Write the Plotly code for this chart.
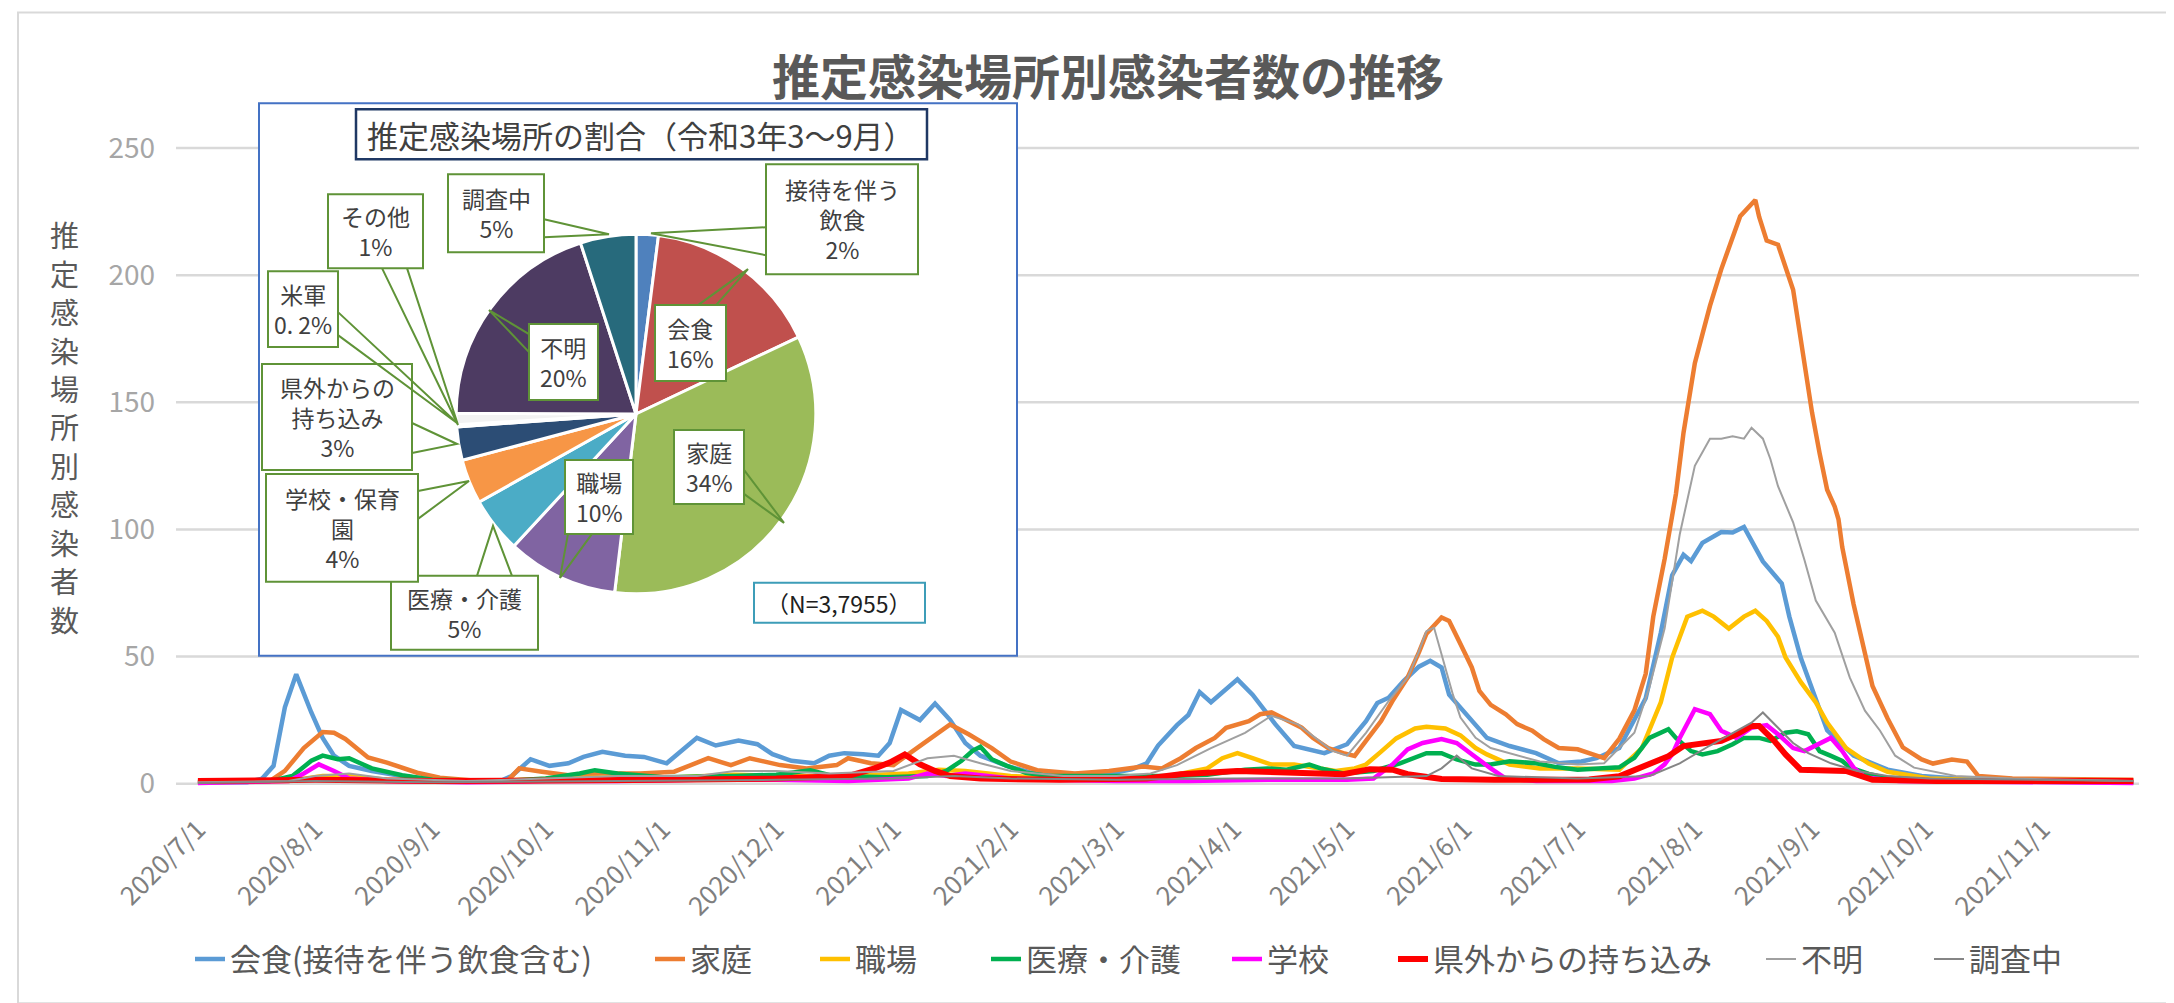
import plotly.graph_objects as go

# ---------------- data ----------------
month_ticks = ["2020-07-01", "2020-08-01", "2020-09-01", "2020-10-01", "2020-11-01", "2020-12-01",
               "2021-01-01", "2021-02-01", "2021-03-01", "2021-04-01", "2021-05-01", "2021-06-01",
               "2021-07-01", "2021-08-01", "2021-09-01", "2021-10-01", "2021-11-01"]
y_ticks = [0, 50, 100, 150, 200, 250]

kaishoku_x = ["2020-07-01","2020-07-14","2020-07-18","2020-07-21","2020-07-24","2020-07-27","2020-07-31","2020-08-03","2020-08-06","2020-08-10","2020-08-16","2020-08-24","2020-09-01","2020-09-19","2020-09-22","2020-09-27","2020-10-02","2020-10-07","2020-10-11","2020-10-16","2020-10-22","2020-10-27","2020-11-02","2020-11-06","2020-11-10","2020-11-15","2020-11-21","2020-11-26","2020-11-30","2020-12-05","2020-12-11","2020-12-15","2020-12-19","2020-12-24","2020-12-28","2020-12-31","2021-01-03","2021-01-08","2021-01-12","2021-01-16","2021-01-20","2021-01-24","2021-01-31","2021-02-06","2021-02-14","2021-02-23","2021-03-01","2021-03-05","2021-03-09","2021-03-12","2021-03-17","2021-03-20","2021-03-23","2021-03-26","2021-04-02","2021-04-06","2021-04-09","2021-04-12","2021-04-17","2021-04-21","2021-04-25","2021-05-01","2021-05-06","2021-05-09","2021-05-12","2021-05-16","2021-05-20","2021-05-23","2021-05-26","2021-05-28","2021-05-31","2021-06-03","2021-06-07","2021-06-13","2021-06-20","2021-06-26","2021-07-02","2021-07-06","2021-07-12","2021-07-19","2021-07-23","2021-07-26","2021-07-29","2021-07-31","2021-08-03","2021-08-08","2021-08-11","2021-08-14","2021-08-17","2021-08-19","2021-08-24","2021-08-26","2021-08-29","2021-09-01","2021-09-05","2021-09-12","2021-09-21","2021-09-30","2021-10-09","2021-10-24","2021-11-25"]
kaishoku_y = [0.5,0.5,2,7,30,43,28,18,11,7,5,3,1.5,1,3,9.6,7,8,10.5,12.5,11,10.5,8,13,18,15,17,15.5,11.6,9,8,11,12,11.6,11,16,29,25,31.5,25,16,11,7,4.5,3.6,4,4.5,5.6,8,15,23,27,36,32,41,35,29,23.4,14.8,13.5,12,15.5,24.6,31.7,33.8,40.4,46,48.3,45.7,35,30,24.6,18,14.8,12,8,8.7,10,14,33.6,59.4,82,90,87.5,94.7,99,98.8,101,93,87.4,78.7,65.7,49.6,36.8,21,11,5.5,3,2,1,1]

katei_x = ["2020-07-01","2020-07-20","2020-07-24","2020-07-29","2020-08-03","2020-08-06","2020-08-09","2020-08-15","2020-08-20","2020-08-28","2020-09-03","2020-09-11","2020-09-21","2020-09-24","2020-09-30","2020-10-07","2020-10-16","2020-10-26","2020-11-04","2020-11-13","2020-11-19","2020-11-24","2020-12-02","2020-12-09","2020-12-17","2020-12-20","2020-12-26","2021-01-01","2021-01-06","2021-01-12","2021-01-16","2021-01-21","2021-01-27","2021-02-01","2021-02-08","2021-02-18","2021-02-27","2021-03-08","2021-03-13","2021-03-18","2021-03-22","2021-03-27","2021-03-30","2021-04-05","2021-04-08","2021-04-11","2021-04-15","2021-04-19","2021-04-22","2021-04-26","2021-04-30","2021-05-03","2021-05-06","2021-05-10","2021-05-13","2021-05-17","2021-05-20","2021-05-22","2021-05-26","2021-05-28","2021-05-31","2021-06-03","2021-06-05","2021-06-08","2021-06-12","2021-06-15","2021-06-19","2021-06-22","2021-06-26","2021-07-01","2021-07-05","2021-07-08","2021-07-12","2021-07-16","2021-07-19","2021-07-21","2021-07-24","2021-07-27","2021-07-29","2021-08-01","2021-08-03","2021-08-05","2021-08-08","2021-08-11","2021-08-13","2021-08-17","2021-08-18","2021-08-20","2021-08-23","2021-08-27","2021-08-30","2021-09-01","2021-09-03","2021-09-05","2021-09-07","2021-09-08","2021-09-09","2021-09-12","2021-09-15","2021-09-17","2021-09-21","2021-09-25","2021-09-30","2021-10-03","2021-10-08","2021-10-12","2021-10-15","2021-10-24","2021-11-25"]
katei_y = [1,1,5,14,20.3,20,17.6,10.3,8.3,4.3,2.3,1.3,1.3,6,4.7,3.3,4,4,4.7,10,7.3,10,7.3,6,7.3,10,8,7.3,12.7,19.3,23.3,19.3,14,8.7,5.3,4,5,6.7,6,10,14,18,22,24.6,27.3,28,25,22,18,14,12,10.9,16.8,24.6,32.5,41.7,51.6,59,65.4,64,54.9,45.7,36.5,31,27.3,23.4,20.8,17.5,14,13.5,11.5,10,17.6,28.8,43.2,65.7,88.3,114,138,165.4,176.7,187.9,202.4,215.2,223.2,229.6,223,213.6,212,194.3,165,146,130,115.6,109,104,93,70.6,51.3,38.4,25.6,14.3,9.5,7.9,9.5,8.7,3,2,1.5]

shokuba_x = ["2020-07-01","2020-07-25","2020-08-03","2020-08-10","2020-08-20","2020-09-15","2020-10-05","2020-10-20","2020-11-05","2020-11-20","2020-12-05","2020-12-20","2021-01-05","2021-01-13","2021-01-20","2021-02-01","2021-02-15","2021-03-01","2021-03-15","2021-03-25","2021-03-29","2021-04-02","2021-04-06","2021-04-11","2021-04-17","2021-04-23","2021-04-28","2021-05-03","2021-05-06","2021-05-10","2021-05-14","2021-05-19","2021-05-22","2021-05-27","2021-05-31","2021-06-04","2021-06-07","2021-06-13","2021-06-21","2021-07-01","2021-07-12","2021-07-18","2021-07-23","2021-07-26","2021-07-30","2021-08-03","2021-08-06","2021-08-10","2021-08-14","2021-08-17","2021-08-20","2021-08-23","2021-08-25","2021-08-29","2021-09-02","2021-09-05","2021-09-10","2021-09-16","2021-09-21","2021-10-02","2021-10-24","2021-11-25"]
shokuba_y = [0.5,1,3,3,1.5,1,2,2.5,2.5,3.5,3,3,4,5.5,5,3,2,2,3,6,10,12,10,7.5,7.5,6,5,6,7.5,12.6,17.8,21.7,22.4,21.7,19,14,11.5,7.5,6,6,5.5,14,32,49.6,65.7,68,65.7,61,65.7,68,64,57.8,49.6,40,32,24,14,7.9,4.7,2,1,0.5]

iryo_x = ["2020-07-01","2020-07-20","2020-07-26","2020-07-31","2020-08-03","2020-08-07","2020-08-10","2020-08-16","2020-08-24","2020-09-01","2020-09-20","2020-10-01","2020-10-10","2020-10-14","2020-10-20","2020-11-01","2020-11-20","2020-12-01","2020-12-10","2020-12-16","2020-12-30","2021-01-10","2021-01-15","2021-01-19","2021-01-22","2021-01-24","2021-01-27","2021-01-31","2021-02-05","2021-02-11","2021-02-28","2021-03-15","2021-03-25","2021-04-04","2021-04-10","2021-04-15","2021-04-21","2021-04-24","2021-04-30","2021-05-08","2021-05-15","2021-05-22","2021-05-26","2021-05-30","2021-06-04","2021-06-08","2021-06-13","2021-06-20","2021-06-25","2021-07-01","2021-07-12","2021-07-16","2021-07-20","2021-07-25","2021-07-27","2021-07-31","2021-08-03","2021-08-07","2021-08-11","2021-08-14","2021-08-18","2021-08-21","2021-08-25","2021-08-28","2021-08-31","2021-09-03","2021-09-06","2021-09-09","2021-09-11","2021-09-16","2021-09-20","2021-10-04","2021-11-25"]
iryo_y = [0.5,1,3,9,11,9.6,10,6,3.3,1.5,1,2,4,5.3,4,2.5,3,3.5,5.3,3,2.5,3,5,9,13,14.5,9.6,7,4.3,3,3,3,3.5,5.5,6,5.5,7.5,6,4,5,8,12,12,9.5,7.5,7.5,8.8,8,6.6,5.5,6.4,10.2,18,21.4,18,12.8,11.5,12.8,15.5,18,18,16.8,20,20.6,19.4,12.8,10.9,8.9,6.4,3.8,2.4,1,0.5]

gakko_x = ["2020-07-01","2020-07-25","2020-07-29","2020-08-02","2020-08-06","2020-08-10","2020-08-20","2020-09-10","2020-10-01","2020-10-20","2020-11-10","2020-12-01","2020-12-20","2021-01-05","2021-01-10","2021-01-15","2021-01-20","2021-01-25","2021-02-01","2021-02-10","2021-03-01","2021-03-20","2021-04-10","2021-05-01","2021-05-08","2021-05-13","2021-05-17","2021-05-21","2021-05-26","2021-05-30","2021-06-03","2021-06-08","2021-06-12","2021-06-20","2021-07-10","2021-07-16","2021-07-21","2021-07-24","2021-07-26","2021-07-28","2021-08-01","2021-08-05","2021-08-08","2021-08-12","2021-08-16","2021-08-20","2021-08-23","2021-08-27","2021-08-30","2021-09-03","2021-09-06","2021-09-09","2021-09-12","2021-09-15","2021-09-24","2021-11-25"]
gakko_y = [0.3,1,4,7.6,5,2,1,0.5,1,1,1.5,1.5,1,2,4,3,4,3,2,1.5,1,1,1.5,1.5,2,7.5,13.5,16,17.5,16,11.5,6,2,1,1,2,4,7.6,11.5,18,29.3,27.3,20.8,18,22,23,19.4,14,12.8,16,18,12.8,6.3,2.4,1,0.3]

kengai_x = ["2020-07-01","2020-08-01","2020-09-01","2020-10-01","2020-11-01","2020-12-01","2020-12-20","2020-12-27","2020-12-31","2021-01-04","2021-01-08","2021-01-12","2021-01-16","2021-01-24","2021-02-14","2021-03-09","2021-03-18","2021-04-02","2021-04-21","2021-04-30","2021-05-07","2021-05-13","2021-05-17","2021-05-26","2021-06-09","2021-07-04","2021-07-12","2021-07-16","2021-07-20","2021-07-25","2021-07-29","2021-08-03","2021-08-08","2021-08-12","2021-08-16","2021-08-18","2021-08-22","2021-08-25","2021-08-29","2021-09-10","2021-09-17","2021-10-04","2021-11-25"]
kengai_y = [1,1.5,1,1,1.5,2,3,6,8.3,11.5,7.6,5,3,2,1.5,2,3.7,5,4.3,3.7,5.7,5.5,3.7,1.8,1.5,1.6,2.9,5.5,7.5,10.8,14.8,16,16.8,19.4,22.7,22.7,16.8,11.5,5.5,5,1.5,1,1]

fumei_x = ["2020-07-01","2020-07-25","2020-08-01","2020-08-10","2020-08-20","2020-09-10","2020-10-01","2020-10-20","2020-11-10","2020-11-20","2020-12-01","2020-12-15","2021-01-01","2021-01-10","2021-01-17","2021-01-24","2021-02-01","2021-02-15","2021-03-01","2021-03-10","2021-03-17","2021-03-26","2021-04-04","2021-04-11","2021-04-18","2021-04-27","2021-05-01","2021-05-06","2021-05-12","2021-05-17","2021-05-20","2021-05-22","2021-05-24","2021-05-26","2021-05-29","2021-05-31","2021-06-04","2021-06-08","2021-06-13","2021-06-21","2021-07-01","2021-07-08","2021-07-16","2021-07-20","2021-07-24","2021-07-28","2021-08-01","2021-08-05","2021-08-08","2021-08-11","2021-08-14","2021-08-16","2021-08-19","2021-08-21","2021-08-23","2021-08-27","2021-08-30","2021-09-02","2021-09-07","2021-09-11","2021-09-15","2021-09-19","2021-09-23","2021-09-28","2021-10-09","2021-10-24","2021-11-25"]
fumei_y = [0.5,1,3,4,2,1,2,3,3,5,5,4,5,10,11,8,5,3,3,4,7.3,14,20,26.7,23.3,13,11,20,32.5,41.7,52,60,61.4,51,35,26,18,14,12,8.7,7.5,8,20,38,61,98,125,135.7,135.7,136.6,135.7,140,135.7,127.6,117,102.8,88,72,59.4,41.7,28.7,20.8,11,6.3,3,2,1]

chosa_x = ["2020-07-01","2020-08-01","2020-09-01","2020-11-01","2020-12-01","2021-01-01","2021-01-17","2021-02-01","2021-03-01","2021-04-01","2021-05-01","2021-05-22","2021-05-26","2021-05-30","2021-06-03","2021-06-10","2021-07-01","2021-07-20","2021-07-28","2021-08-05","2021-08-11","2021-08-16","2021-08-19","2021-08-23","2021-08-27","2021-08-31","2021-09-06","2021-09-13","2021-09-21","2021-10-02","2021-11-25"]
chosa_y = [0.3,1,0.5,1,1.5,2,3,2,1.5,2,2,3,6,11,6,3,2,3,8,15,20,24,28,22,16,12,8,5,3,2,1]

series_names = ["会食(接待を伴う飲食含む)", "家庭", "職場", "医療・介護", "学校", "県外からの持ち込み", "不明", "調査中"]

pie_labels = ["接待を伴う飲食", "会食", "家庭", "職場", "医療・介護", "学校・保育園",
              "県外からの持ち込み", "米軍", "その他", "不明", "調査中"]
pie_values = [2, 16, 34, 10, 5, 4, 3, 0.2, 1, 20, 5]
callout_texts = ["接待を伴う<br>飲食<br>2%", "会食<br>16%", "家庭<br>34%", "職場<br>10%",
                 "医療・介護<br>5%", "学校・保育<br>園<br>4%", "県外からの<br>持ち込み<br>3%",
                 "米軍<br>0. 2%", "その他<br>1%", "不明<br>20%", "調査中<br>5%"]

chart_title = "推定感染場所別感染者数の推移"
y_title = "推定感染場所別感染者数"
pie_title = "推定感染場所の割合（令和3年3～9月）"
pie_note = "（N=3,7955）"

# ---------------- layout helpers ----------------
W, H = 2174, 1003
L, R, T, B = 168, 2131, 134.7, 782.4
def fx(x):
    return (x - L) / (R - L)
def fy(y):
    return (B - y) / (B - T)

FONT = "Noto Sans CJK JP, Noto Sans, sans-serif"

fig = go.Figure()

series = [
    (kaishoku_x, kaishoku_y, "#5B9BD5", 4.5),
    (katei_x, katei_y, "#ED7D31", 4.5),
    (shokuba_x, shokuba_y, "#FFC000", 4.5),
    (iryo_x, iryo_y, "#00B050", 4.5),
    (gakko_x, gakko_y, "#FF00FF", 4.5),
    (kengai_x, kengai_y, "#FF0000", 6),
    (fumei_x, fumei_y, "#A0A0A0", 2),
    (chosa_x, chosa_y, "#858585", 2),
]
legend_text_left = [224, 684, 849, 1020, 1261, 1427, 1795, 1963]   # pixel x where each legend label starts
legend_ids = ["legend"] + ["legend%d" % k for k in range(2, 9)]
for i, (name, (xs, ys, col, w)) in enumerate(zip(series_names, series)):
    assert len(xs) == len(ys), name
    fig.add_trace(go.Scatter(x=xs, y=ys, name=name, mode="lines", legend=legend_ids[i],
                             line=dict(color=col, width=w)))

pie_colors = ["#4F81BD", "#C0504D", "#9BBB59", "#8064A2", "#4BACC6", "#F79646",
              "#2C4D75", "#E8E8E8", "#F2F2F2", "#4D3B62", "#276A7C"]
pcx, pcy, pr = 628, 406, 180
fig.add_trace(go.Pie(labels=pie_labels, values=pie_values, sort=False, direction="clockwise",
                     rotation=0, textinfo="none", showlegend=False,
                     marker=dict(colors=pie_colors, line=dict(color="white", width=3)),
                     domain=dict(x=[fx(pcx - pr), fx(pcx + pr)], y=[fy(pcy + pr), fy(pcy - pr)])))

shapes = []
annotations = []
# outer chart border
shapes.append(dict(type="rect", xref="paper", yref="paper", x0=fx(10), x1=fx(2164), y0=fy(996), y1=fy(4),
                   line=dict(color="#D9D9D9", width=2), layer="below"))
# horizontal gridlines (drawn as shapes so the inset frame can cover them)
for v in y_ticks:
    shapes.append(dict(type="line", xref="paper", yref="y", x0=0, x1=1, y0=v, y1=v,
                       line=dict(color="#D9D9D9", width=2.5), layer="below"))
# inset frame
shapes.append(dict(type="rect", xref="paper", yref="paper", x0=fx(251), x1=fx(1009),
                   y0=fy(648), y1=fy(95), line=dict(color="#4472C4", width=2),
                   fillcolor="white", layer="below"))

GREEN = "#5F9337"
# callout geometry in pixels: box, base point 1, base point 2, tip
callouts = [
    ((758, 156, 910, 266), (758, 219), (758, 247), (643, 225)),
    ((647, 297, 718, 373), (690, 297), (708, 297), (740, 261)),
    ((666, 422, 736, 496), (736, 462), (736, 486), (776, 515)),
    ((557, 452, 625, 526), (560, 526), (584, 526), (552, 570)),
    ((383, 568, 530, 642), (469, 568), (504, 568), (485, 518)),
    ((258, 466, 410, 574), (410, 483), (410, 511), (461, 473)),
    ((254, 356, 404, 462), (404, 415), (404, 445), (449, 436)),
    ((260, 263, 330, 339), (330, 304), (330, 327), (449, 415)),
    ((320, 186, 415, 260), (374, 260), (399, 260), (450, 417)),
    ((521, 316, 590, 392), (521, 326), (521, 344), (481, 302)),
    ((440, 166, 536, 244), (536, 211), (536, 229), (601, 226)),
]
for (box, b1, b2, tip), txt in zip(callouts, callout_texts):
    path = "M {},{} L {},{} L {},{}".format(fx(b1[0]), fy(b1[1]), fx(tip[0]), fy(tip[1]),
                                          fx(b2[0]), fy(b2[1]))
    shapes.append(dict(type="path", xref="paper", yref="paper", path=path,
                       line=dict(color=GREEN, width=2), layer="above"))
    shapes.append(dict(type="rect", xref="paper", yref="paper", x0=fx(box[0]), x1=fx(box[2]),
                       y0=fy(box[3]), y1=fy(box[1]), line=dict(color=GREEN, width=2),
                       fillcolor="white", layer="above"))
    annotations.append(dict(xref="paper", yref="paper", x=fx((box[0] + box[2]) / 2),
                            y=fy((box[1] + box[3]) / 2), text=txt, showarrow=False,
                            xanchor="center", yanchor="middle", align="center",
                            font=dict(family=FONT, size=23, color="#404040")))

# pie title box
shapes.append(dict(type="rect", xref="paper", yref="paper", x0=fx(348), x1=fx(919), y0=fy(151), y1=fy(101),
                   line=dict(color="#1F3864", width=2.5), fillcolor="white", layer="above"))
annotations.append(dict(xref="paper", yref="paper", x=fx(633), y=fy(126), text=pie_title, showarrow=False,
                        xanchor="center", yanchor="middle",
                        font=dict(family=FONT, size=31, color="#404040")))
# N box
shapes.append(dict(type="rect", xref="paper", yref="paper", x0=fx(746), x1=fx(917), y0=fy(615), y1=fy(575),
                   line=dict(color="#3D9DB8", width=2), fillcolor="white", layer="above"))
annotations.append(dict(xref="paper", yref="paper", x=fx(831), y=fy(595), text=pie_note, showarrow=False,
                        xanchor="center", yanchor="middle",
                        font=dict(family=FONT, size=23, color="#202020")))

# chart title
annotations.append(dict(xref="paper", yref="paper", x=fx(1100), y=fy(66), text="<b>" + chart_title + "</b>",
                        showarrow=False, xanchor="center", yanchor="middle",
                        font=dict(family=FONT, size=48, color="#595959")))
# y-axis title: characters stacked vertically
ytitle_top, ytitle_pitch = 226, 38.5
for k, ch in enumerate(y_title):
    annotations.append(dict(xref="paper", yref="paper", x=fx(56), y=fy(ytitle_top + k * ytitle_pitch),
                            text=ch, showarrow=False, xanchor="center", yanchor="middle",
                            font=dict(family=FONT, size=29, color="#595959")))

legend_layouts = {}
for lid, tx in zip(legend_ids, legend_text_left):
    legend_layouts[lid] = dict(orientation="h", x=fx(tx - 42), xanchor="left", y=fy(952), yanchor="middle",
                               bgcolor="rgba(0,0,0,0)", borderwidth=0,
                               font=dict(family=FONT, size=31, color="#595959"))

fig.update_layout(
    width=W, height=H,
    margin=dict(l=L, r=W - R, t=T, b=H - B),
    paper_bgcolor="white", plot_bgcolor="rgba(0,0,0,0)",
    font=dict(family=FONT),
    shapes=shapes, annotations=annotations,
    xaxis=dict(type="date", range=["2020-06-25 04:48", "2021-11-26 12:00"], tickvals=month_ticks,
               tickformat="%Y/%-m/%-d", tickangle=-45, showgrid=False, zeroline=False,
               showline=False, ticks="", ticklabelstandoff=18,
               tickfont=dict(family=FONT, size=26, color="#7F7F7F")),
    yaxis=dict(range=[-2.5, 252], tickvals=y_ticks, showgrid=False, zeroline=False,
               showline=False, ticks="", ticklabelstandoff=20,
               tickfont=dict(family=FONT, size=28, color="#A6A6A6")),
    **legend_layouts,
)

fig.write_html("out.html")
